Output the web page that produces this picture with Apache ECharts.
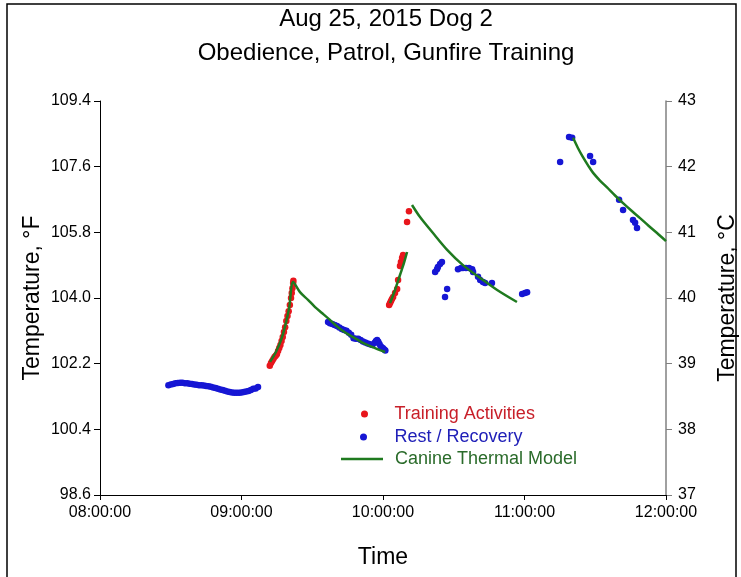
<!DOCTYPE html>
<html>
<head>
<meta charset="utf-8">
<script src="https://cdn.jsdelivr.net/npm/echarts@6/dist/echarts.min.js"></script>
<style>
html,body{margin:0;padding:0;background:#fff;overflow:hidden;}
#chart{width:741px;height:577px;}
</style>
</head>
<body>
<div id="chart"></div>
<script>
// ---- Data (times are clock times on Aug 25, 2015; temperatures in °F) ----
const titleLines = ['Aug 25, 2015 Dog 2', 'Obedience, Patrol, Gunfire Training'];
const timeTickLabels = ['08:00:00', '09:00:00', '10:00:00', '11:00:00', '12:00:00'];
const fahrenheitTicks = [98.6, 100.4, 102.2, 104.0, 105.8, 107.6, 109.4];
const celsiusTicks = [37, 38, 39, 40, 41, 42, 43];

const trainingTimes = [
  '09:12:00','09:12:30','09:13:00','09:13:30','09:14:00','09:14:30','09:15:00','09:15:30',
  '09:16:00','09:16:30','09:17:00','09:17:30','09:18:00','09:18:30','09:19:00','09:19:30',
  '09:20:00','09:20:30','09:21:00','09:21:18','09:21:36','09:21:54','09:22:00',
  '10:02:36','10:03:00','10:03:24','10:03:48','10:04:18','10:05:06','10:06:00','10:06:24',
  '10:07:12','10:07:36','10:08:06','10:08:30','10:10:12','10:11:00'
];
const trainingTempsF = [
  102.14,102.22,102.27,102.33,102.38,102.42,102.46,102.55,
  102.63,102.71,102.82,102.93,103.07,103.20,103.37,103.51,
  103.64,103.81,104.00,104.14,104.27,104.41,104.47,
  103.81,103.86,103.92,103.97,104.03,104.14,104.25,104.49,
  104.88,104.99,105.10,105.18,106.08,106.38
];

const restTimes = [
  '08:29:00','08:30:00','08:31:00','08:32:00','08:33:00','08:34:00','08:35:00','08:36:00',
  '08:37:00','08:38:00','08:39:00','08:40:00','08:41:00','08:42:00','08:43:00','08:44:00',
  '08:45:00','08:46:00','08:47:00','08:48:00','08:49:00','08:50:00','08:51:00','08:52:00',
  '08:53:00','08:54:00','08:55:00','08:56:00','08:57:00','08:58:00','08:59:00','09:00:00',
  '09:01:00','09:02:00','09:03:00','09:04:00','09:05:00','09:06:00','09:07:00',
  '09:36:42','09:37:30','09:38:30','09:39:30','09:40:30','09:41:30','09:42:30','09:43:30',
  '09:44:30','09:45:30','09:46:30','09:47:30','09:48:30','09:49:30','09:50:30','09:51:30',
  '09:52:30','09:53:30','09:54:30','09:55:30','09:56:30','09:57:00','09:57:30','09:58:00',
  '09:58:30','09:59:00','09:59:30','10:00:00','10:00:30','10:01:00',
  '10:22:06','10:22:54','10:23:18','10:24:12','10:25:00','10:26:18','10:27:12','10:31:48',
  '10:33:06','10:33:54','10:35:12','10:36:30','10:37:48','10:38:12','10:40:18','10:41:12',
  '10:42:24','10:43:18','10:46:12','10:59:00','11:00:12','11:01:06',
  '11:15:06','11:18:54','11:20:12','11:27:48','11:29:06','11:40:06','11:41:48','11:46:00',
  '11:46:54','11:47:42'
];
const restTempsF = [
  101.61,101.63,101.64,101.66,101.67,101.68,101.68,101.66,
  101.66,101.65,101.64,101.63,101.62,101.61,101.61,101.60,
  101.59,101.58,101.57,101.55,101.53,101.51,101.49,101.48,
  101.46,101.44,101.42,101.41,101.40,101.40,101.40,101.41,
  101.42,101.44,101.45,101.48,101.51,101.52,101.56,
  103.34,103.31,103.29,103.26,103.23,103.19,103.15,103.12,
  103.10,103.05,102.99,102.90,102.88,102.88,102.85,102.81,
  102.78,102.75,102.73,102.71,102.77,102.82,102.85,102.80,
  102.74,102.68,102.64,102.62,102.59,102.56,
  104.71,104.79,104.85,104.93,104.99,104.03,104.25,104.79,
  104.82,104.82,104.82,104.82,104.79,104.71,104.58,104.49,
  104.44,104.41,104.41,104.11,104.14,104.16,
  107.73,108.41,108.39,107.89,107.73,106.69,106.41,106.14,
  106.06,105.92
];

const modelTimes1 = ['09:12:06','09:14:36','09:16:48','09:18:30','09:20:12','09:21:54','09:24:48','09:28:12',
  '09:31:12','09:34:06','09:37:30','09:40:54','09:44:18','09:48:06','09:51:30','09:55:24','09:58:42','10:00:54'];
const modelTempsF1 = [102.25,102.52,102.85,103.23,103.73,104.44,104.16,103.95,
  103.75,103.59,103.40,103.20,103.04,102.90,102.77,102.66,102.57,102.52];
const modelTimes2 = ['10:03:00','10:05:06','10:07:12','10:08:54','10:10:12'];
const modelTempsF2 = [103.86,104.22,104.63,104.96,105.26];
const modelTimes3 = ['10:12:18','10:15:42','10:21:12','10:27:12','10:33:54','10:41:12','10:48:24','10:56:48'];
const modelTempsF3 = [106.55,106.22,105.78,105.32,104.90,104.55,104.22,103.89];
const modelTimes4 = ['11:20:36','11:22:36','11:24:48','11:27:00','11:29:06','11:32:00','11:35:00','11:38:24',
  '11:41:48','11:45:24','11:49:00','11:52:36','11:56:12','12:00:00'];
const modelTempsF4 = [108.39,108.12,107.86,107.63,107.43,107.22,107.03,106.81,
  106.60,106.39,106.19,105.98,105.78,105.56];

// ---- helpers ----
const START = '08:00:00';
function toMin(s) {
  const p = s.split(':').map(Number);
  const b = START.split(':').map(Number);
  return (p[0]*60 + p[1] + p[2]/60) - (b[0]*60 + b[1] + b[2]/60);
}
function pairs(times, vals) { return times.map((t, i) => [toMin(t), vals[i]]); }
const tickMinutes = timeTickLabels.map(toMin);

const FONT = "'Liberation Sans', Arial, sans-serif";
const RED = '#e8161c', BLUE = '#1616d4', GREEN = '#1f7a1f';

const chart = echarts.init(document.getElementById('chart'), null, {renderer: 'canvas'});

const modelSets = [[modelTimes1, modelTempsF1],[modelTimes2, modelTempsF2],[modelTimes3, modelTempsF3],[modelTimes4, modelTempsF4]];

const option = {
  animation: false,
  backgroundColor: '#fff',
  title: {
    text: titleLines.join('\n'),
    left: 381, textAlign: 'center', top: -3,
    textStyle: {fontFamily: FONT, fontSize: 24, fontWeight: 'normal', color: '#000', lineHeight: 34}
  },
  graphic: [{
    type: 'rect', shape: {x: 7, y: 4, width: 729, height: 600},
    style: {fill: 'none', stroke: '#000', lineWidth: 1.5}, silent: true, z: 100
  }],
  grid: {left: 100, right: 75, top: 101, bottom: 82, containLabel: false, outerBoundsMode: 'none'},
  xAxis: {
    type: 'value', min: tickMinutes[0], max: tickMinutes[tickMinutes.length-1], interval: 60,
    name: 'Time', nameLocation: 'middle', nameGap: 51, nameMoveOverlap: false,
    nameTextStyle: {fontFamily: FONT, fontSize: 23, color: '#000'},
    axisLine: {show: true, lineStyle: {color: '#000', width: 1}},
    axisTick: {show: true, inside: false, length: 5, lineStyle: {color: '#000'}},
    axisLabel: {fontFamily: FONT, fontSize: 16, color: '#000', margin: 10,
      formatter: v => { const i = tickMinutes.indexOf(v); return i >= 0 ? timeTickLabels[i] : ''; }},
    splitLine: {show: false}
  },
  yAxis: [{
    type: 'value', min: fahrenheitTicks[0], max: fahrenheitTicks[fahrenheitTicks.length-1],
    position: 'left',
    name: 'Temperature, °F', nameLocation: 'middle', nameGap: 56, nameRotate: 90, nameMoveOverlap: false,
    nameTextStyle: {fontFamily: FONT, fontSize: 23, color: '#000'},
    axisLine: {show: true, lineStyle: {color: '#000', width: 1}},
    axisTick: {show: true, inside: false, length: 6, customValues: fahrenheitTicks, lineStyle: {color: '#000'}},
    axisLabel: {fontFamily: FONT, fontSize: 16, color: '#000', margin: 9, customValues: fahrenheitTicks,
      formatter: v => Number(v).toFixed(1)},
    splitLine: {show: false}
  }, {
    type: 'value', min: celsiusTicks[0], max: celsiusTicks[celsiusTicks.length-1], interval: 1,
    position: 'right',
    name: 'Temperature, °C', nameLocation: 'middle', nameGap: 50, nameRotate: 90, nameMoveOverlap: false,
    nameTextStyle: {fontFamily: FONT, fontSize: 23, color: '#000'},
    axisLine: {show: true, lineStyle: {color: '#808080', width: 1.5}},
    axisTick: {show: true, inside: false, length: 6, lineStyle: {color: '#808080'}},
    axisLabel: {fontFamily: FONT, fontSize: 16, color: '#000', margin: 12},
    splitLine: {show: false}
  }],
  legend: [{
    data: [{name: 'Training Activities', icon: 'circle'}],
    left: 356, top: 400, itemWidth: 42, itemHeight: 7, symbolKeepAspect: true,
    textStyle: {fontFamily: FONT, fontSize: 18, color: '#c8202a', padding: [0,0,0,4]}
  }, {
    data: [{name: 'Rest / Recovery', icon: 'circle'}],
    left: 355, top: 423, itemWidth: 42, itemHeight: 7, symbolKeepAspect: true,
    textStyle: {fontFamily: FONT, fontSize: 18, color: '#2020b8', padding: [0,0,0,5]}
  }, {
    data: [{name: 'Canine Thermal Model', icon: 'rect'}],
    left: 336, top: 445, itemWidth: 42, itemHeight: 2.5, symbolKeepAspect: false,
    textStyle: {fontFamily: FONT, fontSize: 18, color: '#2a6b2a', padding: [0,0,0,7]}
  }],
  series: [
    {name: 'Training Activities', type: 'scatter', yAxisIndex: 0, symbol: 'circle', symbolSize: 6.5,
     itemStyle: {color: RED, opacity: 1}, data: pairs(trainingTimes, trainingTempsF), z: 2},
    {name: 'Rest / Recovery', type: 'scatter', yAxisIndex: 0, symbol: 'circle', symbolSize: 6.5,
     itemStyle: {color: BLUE, opacity: 1}, data: pairs(restTimes, restTempsF), z: 2},
    ...modelSets.map(([t, v]) => ({
      name: 'Canine Thermal Model', type: 'line', yAxisIndex: 0, smooth: 0.3, showSymbol: false, symbol: 'none',
      lineStyle: {color: GREEN, width: 2.5}, itemStyle: {color: GREEN},
      data: pairs(t, v), z: 3
    }))
  ]
};
chart.setOption(option);
</script>
</body>
</html>
